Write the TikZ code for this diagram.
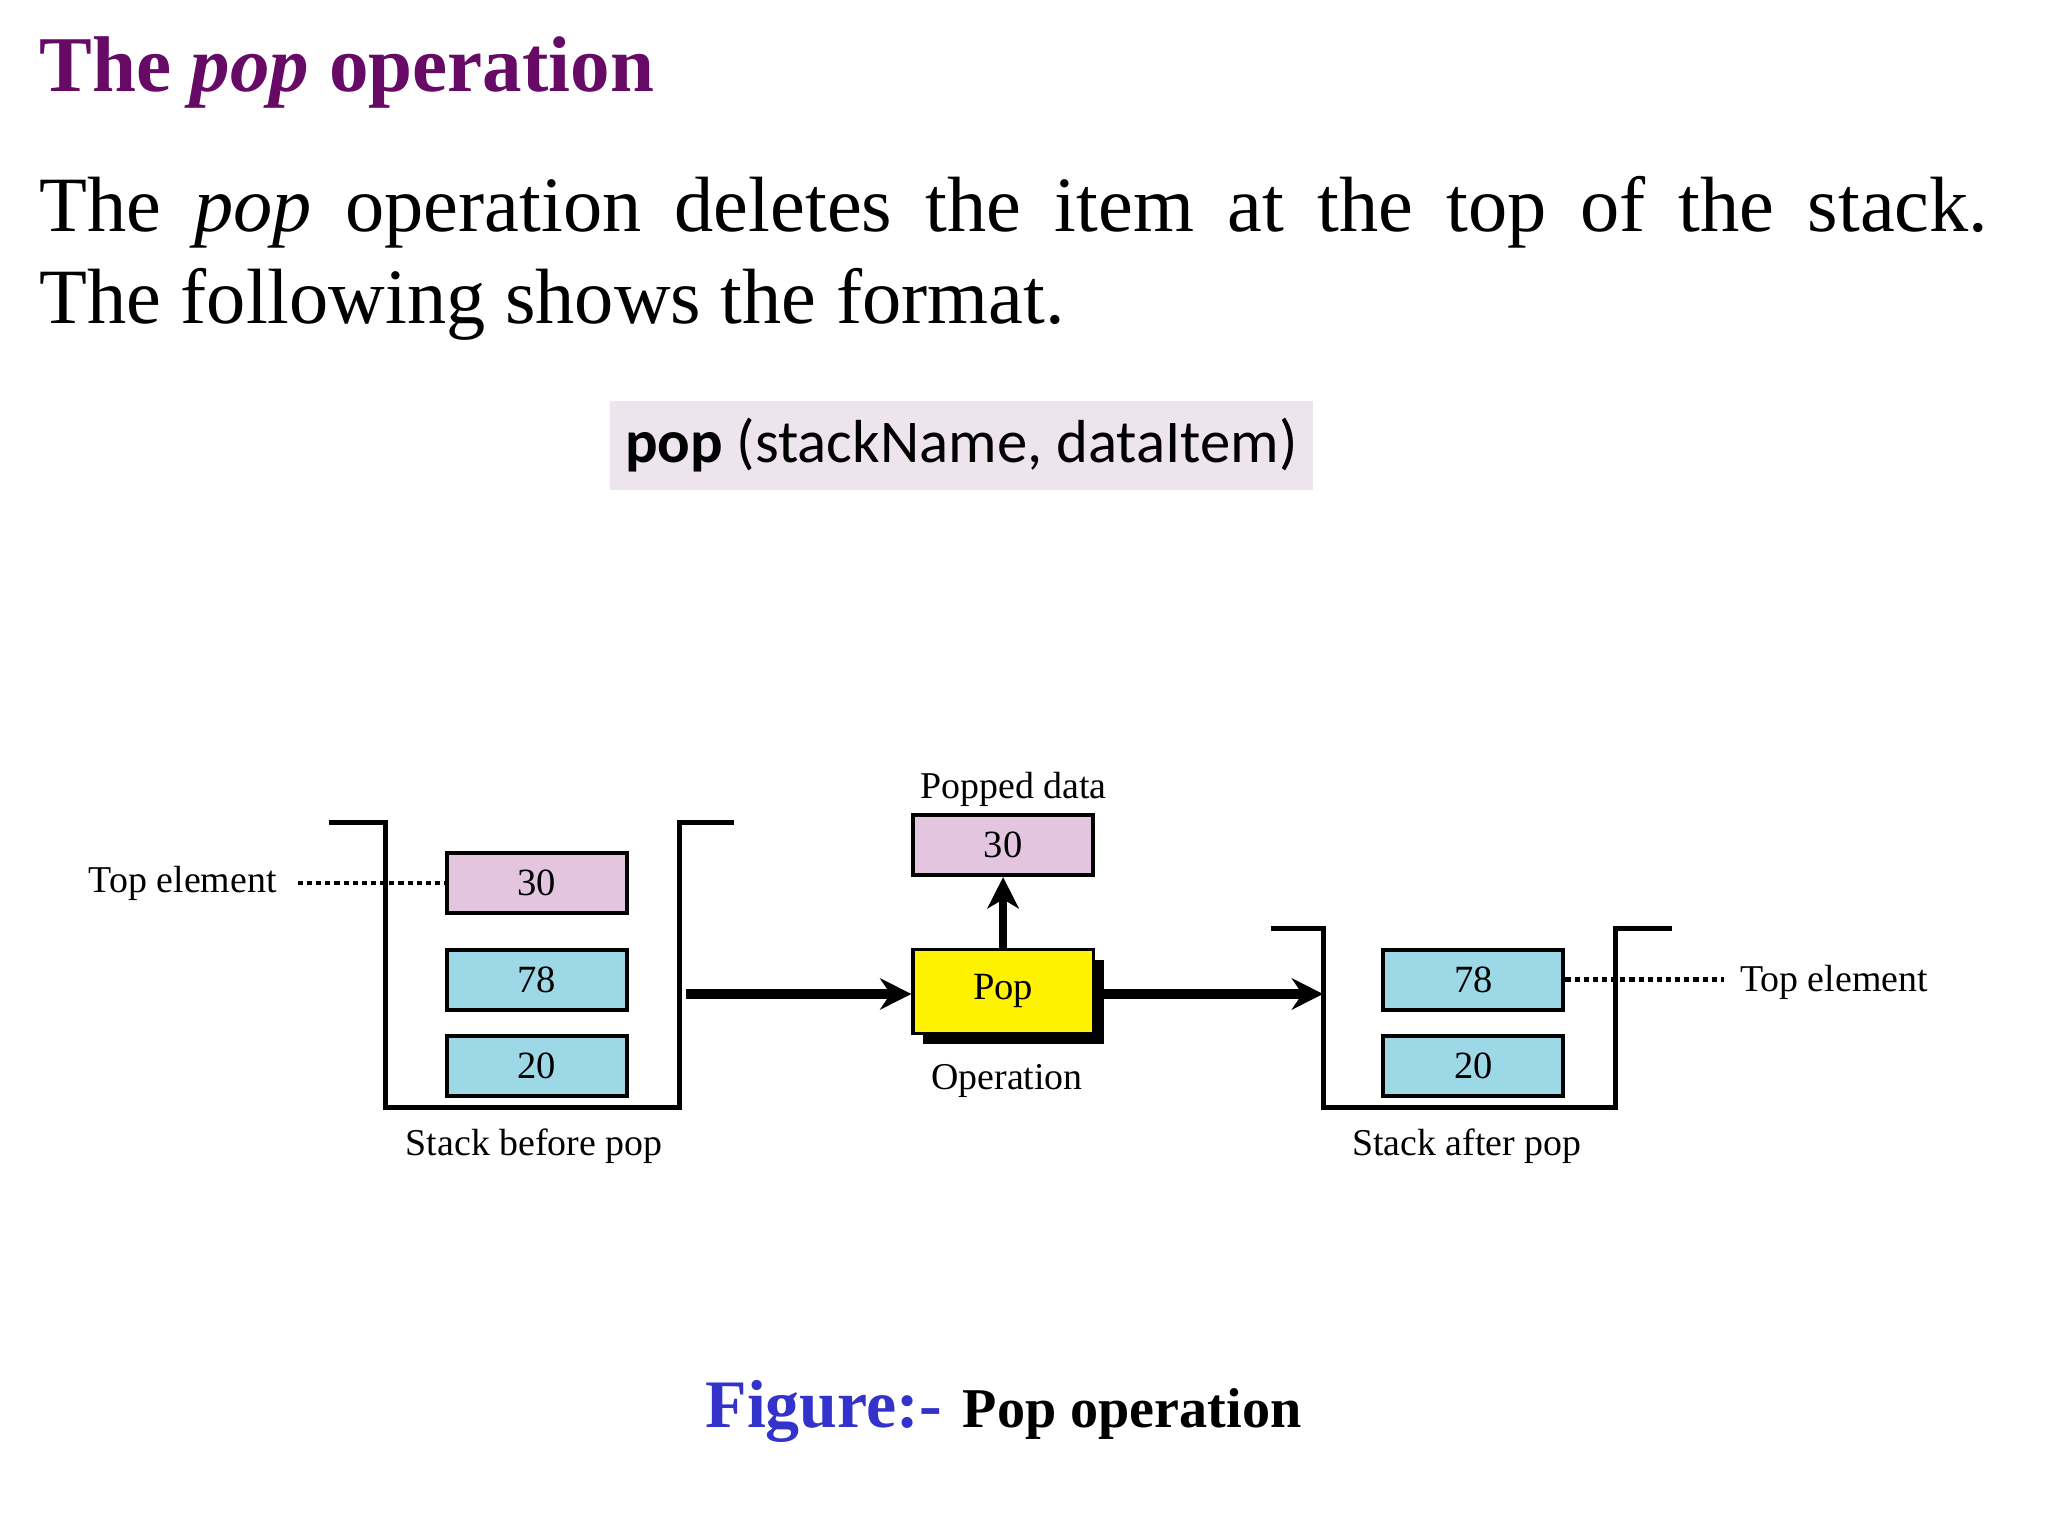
\documentclass[tikz,border=0pt]{standalone}
\usepackage{fontspec}
\setmainfont{Liberation Serif}
\newfontfamily\codefont{Carlito}
\usetikzlibrary{arrows.meta,shadows}
\definecolor{titlepurple}{HTML}{660A66}
\definecolor{codebg}{HTML}{EEE4EE}
\definecolor{pinkfill}{HTML}{E4C5E0}
\definecolor{cyanfill}{HTML}{9CD8E6}
\definecolor{figblue}{HTML}{3333CC}
\begin{document}
\begin{tikzpicture}[x=1pt,y=-1pt,
  lbl/.style={font=\fontsize{29}{34}\selectfont, inner sep=0pt},
  cell/.style={draw=black, line width=3pt, minimum width=138pt, minimum height=46pt, inner sep=0pt, font=\fontsize{29.5}{34}\selectfont},
  pinkcell/.style={cell, fill=pinkfill},
  cyancell/.style={cell, fill=cyanfill},
  wall/.style={line width=4pt, line join=miter},
  bigarrow/.style={line width=7pt, -{Stealth[length=24pt, width=24pt, inset=8pt]}},
  dots/.style={line width=3.5pt, dash pattern=on 4pt off 3pt}
]
\useasboundingbox (0,0) rectangle (1568,1176);

% Title and text
\node[anchor=base west, inner sep=0pt, text=titlepurple, font=\fontsize{60.5}{70}\selectfont\bfseries] (title) at (30,70) {The \textit{pop} operation};
\node[anchor=base west, inner sep=0pt, font=\fontsize{60}{71}\selectfont] (line1) at (30,177) {\makebox[1492pt][s]{The \textit{pop} operation deletes the item at the top of the stack.}};
\node[anchor=base west, inner sep=0pt, font=\fontsize{60}{71}\selectfont] (line2) at (30,248) {The following shows the format.};

% Code format box
\node[fill=codebg, minimum width=538pt, minimum height=68pt, inner sep=0pt, font=\codefont\fontsize{46.5}{52}\selectfont] (code) at (736,341) {\textbf{pop} (stackName, dataItem)};

% Left stack
\draw[wall] (252,630) -- (295,630) -- (295,848) -- (520,848) -- (520,630) -- (562,630);
\node[pinkcell] (l30) at (411,676) {30};
\node[cyancell] (l78) at (411,750) {78};
\node[cyancell] (l20) at (411,816) {20};
\node[lbl, anchor=base east] (ltop) at (212,683) {Top element};
\coordinate (ldot) at (228,676);
\draw[dots] (ldot) -- (l30.west);
\node[lbl, anchor=base] (lcap) at (409,885) {Stack before pop};

% Pop operation
\node[draw=black, line width=2.5pt, fill=yellow, minimum width=138pt, minimum height=64pt, inner sep=0pt, font=\fontsize{29.5}{34}\selectfont,
  drop shadow={shadow xshift=8pt, shadow yshift=-8pt, fill=black, opacity=1}] (pop) at (768,759) {Pop};
\node[lbl, anchor=base] (opcap) at (771,834) {Operation};
\node[pinkcell] (p30) at (768,647) {30};
\node[lbl, anchor=base] (pdcap) at (776,611) {Popped data};
\draw[line width=6pt, -{Stealth[length=24pt, width=24pt, inset=7pt]}] (pop.north) -- (p30.south);

% Arrows
\coordinate (lout) at (525,761);
\coordinate (rwall) at (1013,761);
\draw[bigarrow] (lout) -- (lout -| pop.west);
\draw[bigarrow] (pop.east |- rwall) -- (rwall);

% Right stack
\draw[wall] (973,711) -- (1013,711) -- (1013,848) -- (1237,848) -- (1237,711) -- (1280,711);
\node[cyancell] (r78) at (1128,750) {78};
\node[cyancell] (r20) at (1128,816) {20};
\coordinate (rdot) at (1320,750);
\draw[dots] (r78.east) -- (rdot);
\node[lbl, anchor=base west] (rtop) at (1332,759) {Top element};
\node[lbl, anchor=base] (rcap) at (1123,885) {Stack after pop};

% Caption
\node[anchor=base west, inner sep=0pt, text=figblue, font=\fontsize{52}{60}\selectfont\bfseries] (fig) at (540,1093) {Figure:-};
\node[anchor=base west, inner sep=0pt, font=\fontsize{43}{50}\selectfont\bfseries] (figtext) at (737,1093) {Pop operation};
\end{tikzpicture}
\end{document}
